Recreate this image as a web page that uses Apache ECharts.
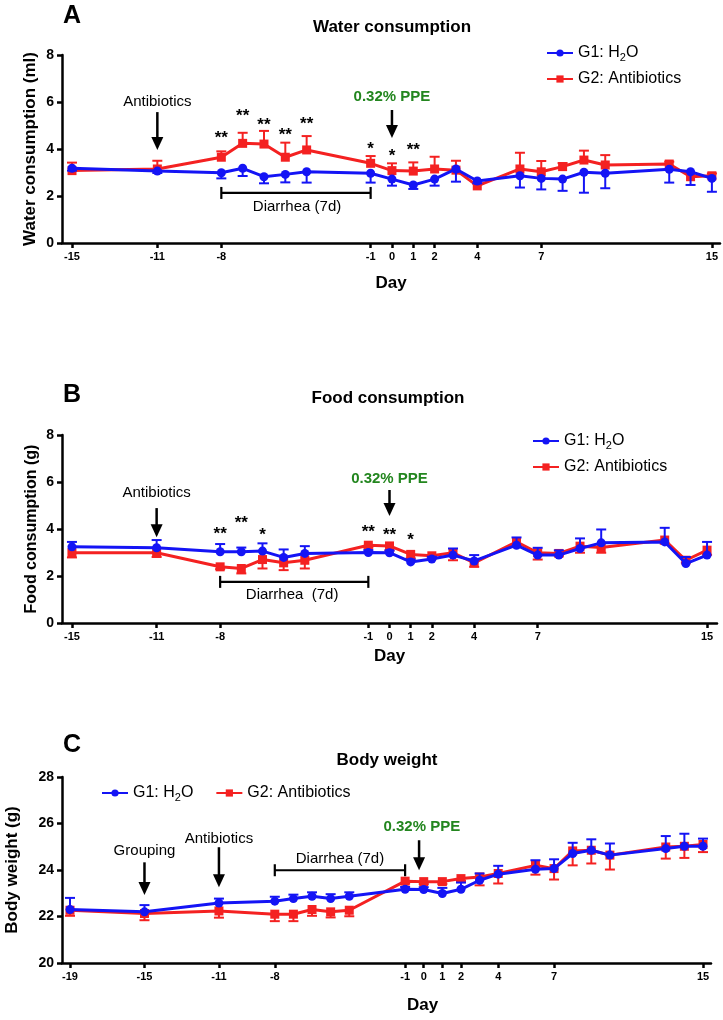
<!DOCTYPE html>
<html>
<head>
<meta charset="utf-8">
<script src="https://cdn.jsdelivr.net/npm/echarts@6/dist/echarts.min.js"></script>
<style>html,body{margin:0;padding:0;background:#fff}#c{width:723px;height:1020px}</style>
</head>
<body>
<div id="c"></div>
<script>
// ---------- DATA ----------
const xTicksAB = [-15, -11, -8, -1, 0, 1, 2, 4, 7, 15];
const xTicksC = [-19, -15, -11, -8, -1, 0, 1, 2, 4, 7, 15];

const daysAB = [-15, -11, -8, -7, -6, -5, -4, -1, 0, 1, 2, 3, 4, 6, 7, 8, 9, 10, 13, 14, 15];
const waterH2O    = [3.18, 3.06, 2.99, 3.18, 2.82, 2.92, 3.03, 2.97, 2.72, 2.47, 2.72, 3.15, 2.64, 2.86, 2.75, 2.72, 3.01, 2.97, 3.14, 3.03, 2.75];
const waterH2OSd  = [0.10, 0.08, 0.24, 0.33, 0.28, 0.34, 0.46, 0.40, 0.28, 0.17, 0.28, 0.54, 0.10, 0.50, 0.47, 0.50, 0.87, 0.64, 0.57, 0.56, 0.57];
const waterAbx    = [3.08, 3.15, 3.65, 4.24, 4.21, 3.65, 3.96, 3.39, 3.08, 3.06, 3.15, 3.10, 2.43, 3.15, 3.03, 3.25, 3.53, 3.32, 3.36, 2.82, 2.86];
const waterAbxSd  = [0.34, 0.35, 0.25, 0.45, 0.56, 0.62, 0.59, 0.31, 0.31, 0.37, 0.52, 0.40, 0.10, 0.69, 0.46, 0.15, 0.40, 0.42, 0.10, 0.15, 0.10];

const foodH2O     = [3.24, 3.20, 3.03, 3.03, 3.06, 2.79, 2.96, 3.00, 2.99, 2.60, 2.72, 2.89, 2.64, 3.31, 2.89, 2.89, 3.17, 3.41, 3.45, 2.53, 2.89];
const foodH2OSd   = [0.21, 0.33, 0.33, 0.18, 0.33, 0.34, 0.31, 0.10, 0.10, 0.10, 0.10, 0.28, 0.25, 0.33, 0.31, 0.20, 0.43, 0.57, 0.60, 0.28, 0.56];
const foodAbx     = [2.99, 2.99, 2.39, 2.32, 2.70, 2.56, 2.67, 3.31, 3.28, 2.92, 2.86, 2.99, 2.56, 3.45, 2.99, 2.96, 3.27, 3.21, 3.53, 2.67, 3.10];
const foodAbxSd   = [0.20, 0.18, 0.10, 0.21, 0.38, 0.31, 0.35, 0.10, 0.20, 0.17, 0.10, 0.32, 0.17, 0.10, 0.29, 0.10, 0.28, 0.22, 0.15, 0.10, 0.20];

const daysC = [-19, -15, -11, -8, -7, -6, -5, -4, -1, 0, 1, 2, 3, 4, 6, 7, 8, 9, 10, 13, 14, 15];
const bwH2O       = [22.30, 22.20, 22.58, 22.66, 22.77, 22.87, 22.77, 22.87, 23.17, 23.16, 22.99, 23.17, 23.56, 23.82, 24.03, 24.06, 24.71, 24.85, 24.64, 24.92, 25.02, 25.02];
const bwH2OSd     = [0.50, 0.29, 0.19, 0.19, 0.17, 0.17, 0.19, 0.17, 0.10, 0.10, 0.24, 0.29, 0.29, 0.36, 0.39, 0.40, 0.46, 0.47, 0.50, 0.54, 0.54, 0.33];
const bwAbx       = [22.27, 22.13, 22.24, 22.10, 22.10, 22.30, 22.20, 22.27, 23.52, 23.50, 23.50, 23.63, 23.70, 23.85, 24.20, 24.06, 24.82, 24.85, 24.64, 24.99, 25.02, 25.10];
const bwAbxSd     = [0.24, 0.29, 0.29, 0.30, 0.30, 0.27, 0.24, 0.26, 0.10, 0.10, 0.10, 0.10, 0.36, 0.43, 0.40, 0.47, 0.62, 0.57, 0.62, 0.50, 0.50, 0.33];

// annotations (data coordinates)
const annA = [
  {kind: 'label', x: -11, y: 6.0, text: 'Antibiotics'},
  {kind: 'arrow', x: -11, y: 5.57, y2: 3.96},
  {kind: 'ppe', x: 0, y: 6.21, text: '0.32% PPE'},
  {kind: 'arrow', x: 0, y: 5.66, y2: 4.47},
  {kind: 'bracket', x: -8, x2: -1, y: 2.13},
  {kind: 'label', x: -4.45, y: 1.53, text: 'Diarrhea (7d)'},
  {kind: 'star', x: -8, y: 4.6, text: '**'},
  {kind: 'star', x: -7, y: 5.53, text: '**'},
  {kind: 'star', x: -6, y: 5.15, text: '**'},
  {kind: 'star', x: -5, y: 4.72, text: '**'},
  {kind: 'star', x: -4, y: 5.19, text: '**'},
  {kind: 'star', x: -1, y: 4.13, text: '*'},
  {kind: 'star', x: 0, y: 3.83, text: '*'},
  {kind: 'star', x: 1, y: 4.09, text: '**'}
];
const annB = [
  {kind: 'label', x: -11, y: 5.53, text: 'Antibiotics'},
  {kind: 'arrow', x: -11, y: 4.89, y2: 3.65},
  {kind: 'ppe', x: 0, y: 6.13, text: '0.32% PPE'},
  {kind: 'arrow', x: 0, y: 5.66, y2: 4.55},
  {kind: 'bracket', x: -8, x2: -1, y: 1.75},
  {kind: 'label', x: -4.6, y: 1.18, text: 'Diarrhea  (7d)'},
  {kind: 'star', x: -8, y: 3.91, text: '**'},
  {kind: 'star', x: -7, y: 4.38, text: '**'},
  {kind: 'star', x: -6, y: 3.88, text: '*'},
  {kind: 'star', x: -1, y: 4.0, text: '**'},
  {kind: 'star', x: 0, y: 3.87, text: '**'},
  {kind: 'star', x: 1, y: 3.65, text: '*'}
];
const annC = [
  {kind: 'label', x: -15, y: 24.81, text: 'Grouping'},
  {kind: 'arrow', x: -15, y: 24.33, y2: 22.92},
  {kind: 'label', x: -11, y: 25.32, text: 'Antibiotics'},
  {kind: 'arrow', x: -11, y: 24.98, y2: 23.26},
  {kind: 'bracket', x: -8, x2: -1, y: 23.99},
  {kind: 'label', x: -4.5, y: 24.5, text: 'Diarrhea (7d)'},
  {kind: 'ppe', x: -0.1, y: 25.84, text: '0.32% PPE'},
  {kind: 'arrow', x: -0.25, y: 25.28, y2: 23.99}
];

// ---------- STYLE ----------
const FONT = '"Liberation Sans", Arial, Helvetica, sans-serif';
const BLUE = '#1414f5';
const RED = '#f42121';
const GREEN = '#23861f';

// dir: +1 = error bar drawn above the mean only, -1 = below only
function errSeries(days, mean, sd, color, gi, z, dir) {
  return {
    type: 'custom', name: 'err' + gi + color, xAxisIndex: gi, yAxisIndex: gi, z: z, silent: true,
    data: days.map((d, i) => [d, mean[i], sd[i]]),
    renderItem: function (params, api) {
      const x = api.value(0), m = api.value(1), s = api.value(2);
      const c = api.coord([x, m]), e = api.coord([x, m + dir * s]);
      const w = 5, st = {stroke: color, lineWidth: 2};
      return {type: 'group', children: [
        {type: 'line', shape: {x1: c[0], y1: c[1], x2: e[0], y2: e[1]}, style: st},
        {type: 'line', shape: {x1: e[0] - w, y1: e[1], x2: e[0] + w, y2: e[1]}, style: st}
      ]};
    }
  };
}
function lineSeries(name, days, mean, color, symbol, gi, z) {
  return {
    type: 'line', name: name, xAxisIndex: gi, yAxisIndex: gi, z: z,
    data: days.map((d, i) => [d, mean[i]]),
    symbol: symbol, symbolSize: 9, showSymbol: true,
    lineStyle: {width: 3, color: color}, itemStyle: {color: color},
    emphasis: {disabled: true}, animation: false
  };
}
function annSeries(ann, gi) {
  return {
    type: 'custom', name: 'ann' + gi, xAxisIndex: gi, yAxisIndex: gi, z: 10, silent: true,
    data: ann.map(a => [a.x, a.y]),
    renderItem: function (params, api) {
      const a = ann[params.dataIndex];
      const p = api.coord([a.x, a.y]);
      if (a.kind === 'arrow') {
        const q = api.coord([a.x, a.y2]);
        const hw = 6, hh = 13;
        return {type: 'group', children: [
          {type: 'line', shape: {x1: p[0], y1: p[1], x2: q[0], y2: q[1] - hh + 2}, style: {stroke: '#000', lineWidth: 2.5}},
          {type: 'polygon', shape: {points: [[q[0] - hw, q[1] - hh], [q[0] + hw, q[1] - hh], [q[0], q[1]]]}, style: {fill: '#000'}}
        ]};
      }
      if (a.kind === 'bracket') {
        const q = api.coord([a.x2, a.y]);
        const st = {stroke: '#000', lineWidth: 2.2};
        return {type: 'group', children: [
          {type: 'line', shape: {x1: p[0], y1: p[1], x2: q[0], y2: q[1]}, style: st},
          {type: 'line', shape: {x1: p[0], y1: p[1] - 6, x2: p[0], y2: p[1] + 6}, style: st},
          {type: 'line', shape: {x1: q[0], y1: q[1] - 6, x2: q[0], y2: q[1] + 6}, style: st}
        ]};
      }
      let font = '15px ' + FONT, fill = '#000', dy = 0;
      if (a.kind === 'ppe') { font = 'bold 15px ' + FONT; fill = GREEN; }
      if (a.kind === 'star') { font = 'bold 17px ' + FONT; dy = 3; }
      return {type: 'text', x: p[0], y: p[1] + dy,
        style: {text: a.text, font: font, fill: fill, align: 'center', verticalAlign: 'middle'}};
    }
  };
}

const axisLineStyle = {color: '#000', width: 2.5};
function xAxisCfg(gi, min, max, ticks, nameGap, namePad) {
  return {
    gridIndex: gi, type: 'value', min: min, max: max,
    axisLine: {show: true, onZero: false, lineStyle: axisLineStyle},
    axisTick: {show: true, customValues: ticks, length: 5, lineStyle: axisLineStyle},
    axisLabel: {customValues: ticks, fontWeight: 'bold', fontSize: 11, color: '#000', fontFamily: FONT, margin: 8},
    splitLine: {show: false},
    name: 'Day', nameLocation: 'middle', nameGap: nameGap, nameMoveOverlap: false,
    nameTextStyle: {fontWeight: 'bold', fontSize: 17, color: '#000', fontFamily: FONT, padding: namePad}
  };
}
function yAxisCfg(gi, min, max, name, nameGap, nameSize) {
  return {
    gridIndex: gi, type: 'value', min: min, max: max, interval: 2,
    axisLine: {show: true, onZero: false, lineStyle: axisLineStyle},
    axisTick: {show: true, length: 5, lineStyle: axisLineStyle},
    axisLabel: {fontWeight: 'bold', fontSize: 14, color: '#000', fontFamily: FONT, margin: 8},
    splitLine: {show: false},
    name: name, nameLocation: 'middle', nameGap: nameGap, nameMoveOverlap: false,
    nameTextStyle: {fontWeight: 'bold', fontSize: nameSize, color: '#000', fontFamily: FONT}
  };
}
const legendText = {
  fontSize: 16, color: '#000', fontFamily: FONT,
  rich: {n: {fontSize: 16, fontFamily: FONT, color: '#000'},
         s: {fontSize: 11, fontFamily: FONT, color: '#000', padding: [9, 0, 0, 0]}}
};
function legendFmt(name) {
  return name === 'G1' ? '{n|G1: H}{s|2}{n|O}' : '{n|G2: Antibiotics}';
}
function legendCfg(extra) {
  return Object.assign({
    data: ['G1', 'G2'], itemWidth: 26, itemHeight: 9, selectedMode: false,
    textStyle: legendText, formatter: legendFmt
  }, extra);
}
function txt(x, y, text, font) {
  return {type: 'text', x: x, y: y, style: {text: text, font: font, fill: '#000', align: 'center', verticalAlign: 'middle'}};
}

const option = {
  animation: false,
  textStyle: {fontFamily: FONT},
  grid: [
    {left: 62, top: 55, width: 658, height: 188, outerBoundsMode: 'none', containLabel: false},
    {left: 62, top: 435, width: 655, height: 188, outerBoundsMode: 'none', containLabel: false},
    {left: 62, top: 777, width: 649, height: 186, outerBoundsMode: 'none', containLabel: false}
  ],
  xAxis: [
    xAxisCfg(0, -15.47, 15.38, xTicksAB, 32, [0, 0, 0, 0]),
    xAxisCfg(1, -15.47, 15.47, xTicksAB, 25, [0, 0, 0, 0]),
    xAxisCfg(2, -19.43, 15.43, xTicksC, 34, [0, 0, 0, 72])
  ],
  yAxis: [
    yAxisCfg(0, 0, 8, 'Water consumption (ml)', 23, 17),
    yAxisCfg(1, 0, 8, 'Food consumption (g)', 22, 16),
    yAxisCfg(2, 20, 28, 'Body weight (g)', 41, 17)
  ],
  legend: [
    legendCfg({orient: 'vertical', left: 541, top: 40, itemGap: 8}),
    legendCfg({orient: 'vertical', left: 527, top: 428, itemGap: 8}),
    legendCfg({orient: 'horizontal', left: 96, top: 780, itemGap: 22})
  ],
  graphic: [
    txt(72, 16, 'A', 'bold 25px ' + FONT),
    txt(392, 27, 'Water consumption', 'bold 17px ' + FONT),
    txt(72, 395, 'B', 'bold 25px ' + FONT),
    txt(388, 398, 'Food consumption', 'bold 17px ' + FONT),
    txt(72, 745, 'C', 'bold 25px ' + FONT),
    txt(387, 760, 'Body weight', 'bold 17px ' + FONT)
  ],
  series: [
    errSeries(daysAB, waterAbx, waterAbxSd, RED, 0, 2, 1),
    lineSeries('G2', daysAB, waterAbx, RED, 'rect', 0, 3),
    errSeries(daysAB, waterH2O, waterH2OSd, BLUE, 0, 4, -1),
    lineSeries('G1', daysAB, waterH2O, BLUE, 'circle', 0, 5),
    annSeries(annA, 0),

    errSeries(daysAB, foodAbx, foodAbxSd, RED, 1, 2, -1),
    lineSeries('G2', daysAB, foodAbx, RED, 'rect', 1, 3),
    errSeries(daysAB, foodH2O, foodH2OSd, BLUE, 1, 4, 1),
    lineSeries('G1', daysAB, foodH2O, BLUE, 'circle', 1, 5),
    annSeries(annB, 1),

    errSeries(daysC, bwAbx, bwAbxSd, RED, 2, 2, -1),
    lineSeries('G2', daysC, bwAbx, RED, 'rect', 2, 3),
    errSeries(daysC, bwH2O, bwH2OSd, BLUE, 2, 4, 1),
    lineSeries('G1', daysC, bwH2O, BLUE, 'circle', 2, 5),
    annSeries(annC, 2)
  ]
};
const chart = echarts.init(document.getElementById('c'), null, {renderer: 'canvas'});
chart.setOption(option);
</script>
</body>
</html>
